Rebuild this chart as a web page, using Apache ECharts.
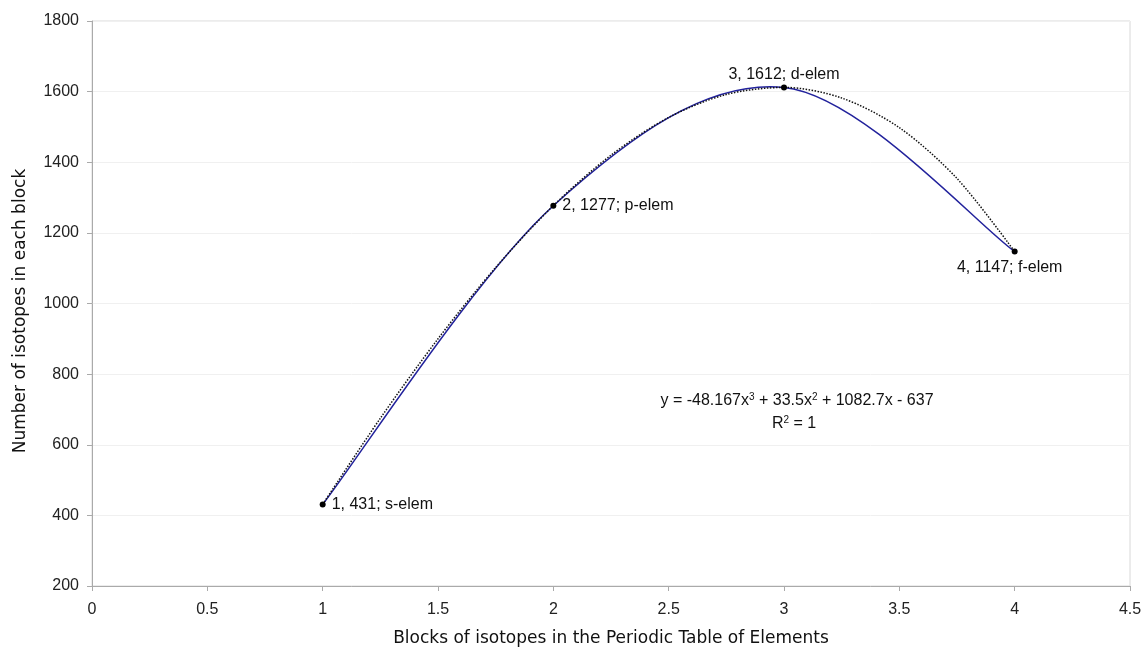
<!DOCTYPE html>
<html><head><meta charset="utf-8">
<script src="https://cdn.jsdelivr.net/npm/echarts@6/dist/echarts.min.js"></script>
<style>html,body{margin:0;padding:0;background:#fff}#c{width:1145px;height:648px}</style>
</head><body><div id="c"></div>
<script>
const blockX = [1, 2, 3, 4];
const isotopeCounts = [431, 1277, 1612, 1147];
const blockNames = ['s-elem', 'p-elem', 'd-elem', 'f-elem'];
// dotted polynomial trend line
const trendX = [1, 1.25, 1.5, 1.75, 2, 2.25, 2.5, 2.75, 3, 3.25, 3.5, 3.75, 4];
const trendY = [431, 675, 900, 1102, 1277, 1420, 1527, 1592, 1612, 1582, 1498, 1354, 1147];
const xTicks = {min: 0, max: 4.5, interval: 0.5};
const yTicks = {min: 200, max: 1800, interval: 200};
const labelPos = ['right', 'right', 'top', 'bottom'];
const xTitle = 'Blocks of isotopes in the Periodic Table of Elements';
const yTitle = 'Number of isotopes in each block';

const font = 'Liberation Sans, Arial, sans-serif';
const titleFont = 'DejaVu Sans, sans-serif';
const chart = echarts.init(document.getElementById('c'), null, {renderer: 'canvas'});

// Smoothed line drawn as spreadsheet-style Bezier (tension 1/6) through pixel coords from the axes
function smoothPath(api) {
  const p = blockX.map((x, i) => api.coord([x, isotopeCounts[i]]));
  const n = p.length;
  let d = 'M' + p[0][0] + ' ' + p[0][1];
  for (let i = 0; i < n - 1; i++) {
    const p0 = p[Math.max(i - 1, 0)], p1 = p[i], p2 = p[i + 1], p3 = p[Math.min(i + 2, n - 1)];
    const c1 = [p1[0] + (p2[0] - p0[0]) / 6, p1[1] + (p2[1] - p0[1]) / 6];
    const c2 = [p2[0] - (p3[0] - p1[0]) / 6, p2[1] - (p3[1] - p1[1]) / 6];
    d += ' C' + c1[0] + ' ' + c1[1] + ' ' + c2[0] + ' ' + c2[1] + ' ' + p2[0] + ' ' + p2[1];
  }
  return d;
}

chart.setOption({
  animation: false,
  grid: {left: 92, right: 15, top: 21, bottom: 62, show: true, borderColor: '#d8d8d8', borderWidth: 1, outerBoundsMode: 'none', containLabel: false},
  xAxis: {
    type: 'value', min: xTicks.min, max: xTicks.max, interval: xTicks.interval,
    name: xTitle, nameLocation: 'middle', nameGap: 44,
    nameTextStyle: {fontFamily: titleFont, fontSize: 17, color: '#111'},
    axisLine: {lineStyle: {color: '#aaa'}}, axisTick: {show: true, length: 5, lineStyle: {color: '#aaa'}},
    axisLabel: {fontFamily: font, fontSize: 16, color: '#222', margin: 16},
    splitLine: {show: false}
  },
  yAxis: {
    type: 'value', min: yTicks.min, max: yTicks.max, interval: yTicks.interval,
    axisLine: {show: true, lineStyle: {color: '#aaa'}}, axisTick: {show: true, length: 5, lineStyle: {color: '#aaa'}},
    axisLabel: {fontFamily: font, fontSize: 16, color: '#222', margin: 13, formatter: v => String(v)},
    splitLine: {show: true, lineStyle: {color: '#f0f0f0'}}
  },
  series: [
    {
      type: 'line', data: trendX.map((x, i) => [x, trendY[i]]), smooth: 0.3, symbol: 'none',
      lineStyle: {color: '#111', width: 1.5, type: 'dotted'}, z: 3
    },
    {
      type: 'custom', z: 2,
      data: blockX.map((x, i) => [x, isotopeCounts[i]]),
      renderItem: (params, api) => {
        if (params.dataIndex !== 0) return null;
        return {
          type: 'path', shape: {pathData: smoothPath(api)},
          style: {fill: 'none', stroke: '#22229c', lineWidth: 1.5}
        };
      }
    },
    {
      type: 'line', symbol: 'circle', symbolSize: 6, itemStyle: {color: '#000'},
      lineStyle: {opacity: 0}, z: 4,
      label: {
        show: true, fontFamily: font, fontSize: 16, color: '#111', distance: 5,
        formatter: p => blockX[p.dataIndex] + ', ' + isotopeCounts[p.dataIndex] + '; ' + blockNames[p.dataIndex]
      },
      data: blockX.map((x, i) => ({
        value: [x, isotopeCounts[i]],
        label: {position: labelPos[i], distance: i === 2 ? 2 : (i === 3 ? 5 : 6), offset: i === 3 ? [-5, 0] : [0, 0]}
      }))
    }
  ],
  graphic: [{
    type: 'text', x: 797, y: 401,
    style: {
      align: 'center', verticalAlign: 'middle',
      rich: {
        t: {fontFamily: font, fontSize: 16, fill: '#111'},
        s: {fontFamily: font, fontSize: 10, fill: '#111', padding: [0, 0, 8, 0]}
      },
      text: '{t|y = -48.167x}{s|3}{t| + 33.5x}{s|2}{t| + 1082.7x - 637}'
    }
  }, {
    type: 'text', x: 794, y: 424,
    style: {
      align: 'center', verticalAlign: 'middle',
      rich: {
        t: {fontFamily: font, fontSize: 16, fill: '#111'},
        s: {fontFamily: font, fontSize: 10, fill: '#111', padding: [0, 0, 8, 0]}
      },
      text: '{t|R}{s|2}{t| = 1}'
    }
  }, {
    type: 'text', x: 21, y: 311, rotation: Math.PI / 2,
    style: {
      text: yTitle, align: 'center', verticalAlign: 'middle',
      fontFamily: titleFont, fontSize: 17, fill: '#111'
    }
  }]
});
</script></body></html>
